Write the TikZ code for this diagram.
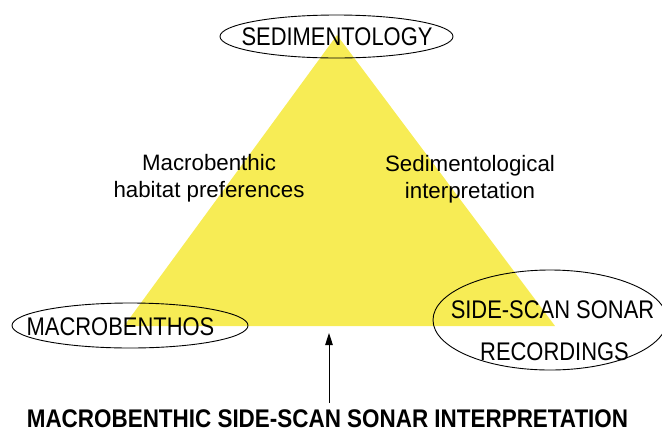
\documentclass[tikz,border=0pt]{standalone}
\usepackage{fontspec}
\setmainfont{Liberation Sans}
\newfontfamily\capsfont[FakeStretch=0.86]{Liberation Sans}
\newfontfamily\boldcapsfont[FakeStretch=0.88]{Liberation Sans Bold}
\usetikzlibrary{arrows.meta,shapes.geometric}
\definecolor{triyellow}{RGB}{247,236,85}
\begin{document}
\begin{tikzpicture}[x=1pt,y=-1pt,
  lbl/.style={font=\capsfont\fontsize{25.5}{28}\selectfont, inner sep=0pt, anchor=base},
  boldlbl/.style={font=\boldcapsfont\fontsize{25.5}{28}\selectfont, inner sep=0pt, anchor=base},
  mid/.style={font=\fontsize{22.3}{27}\selectfont, align=center, inner sep=0pt, anchor=base},
  ell/.style={ellipse, draw=black, line width=0.9pt, inner sep=0pt}
]
\useasboundingbox (0,0) rectangle (662,432);
% triangle
\coordinate (A) at (337,35);
\coordinate (B) at (124,326);
\coordinate (C) at (555,326);
\fill[triyellow] (A) -- (B) -- (C) -- cycle;
% ellipses
\node[ell, minimum width=233pt, minimum height=43pt] (topell) at (336.5,36.5) {};
\node[ell, minimum width=236pt, minimum height=45pt] (leftell) at (130,325.5) {};
\node[ell, minimum width=234pt, minimum height=100pt] (rightell) at (550,320) {};
% labels
\node[lbl] (sed) at (337,45.5) {SEDIMENTOLOGY};
\node[lbl] (mac) at (120.5,335) {MACROBENTHOS};
\node[lbl] (side) at (552.5,318) {SIDE-SCAN SONAR};
\node[lbl] (rec) at (554.5,360) {RECORDINGS};
\node[mid] (hab) at (209,197) {Macrobenthic\\habitat preferences};
\node[mid] (sedint) at (470,198) {Sedimentological\\interpretation};
\node[boldlbl] (bottom) at (327.5,427) {MACROBENTHIC SIDE-SCAN SONAR INTERPRETATION};
% arrow
\coordinate (arrtail) at (329,403);
\coordinate (arrtip) at (329,333);
\draw[line width=1pt, -{Triangle[width=7.5pt,length=12pt]}] (arrtail) -- (arrtip);
\end{tikzpicture}
\end{document}
